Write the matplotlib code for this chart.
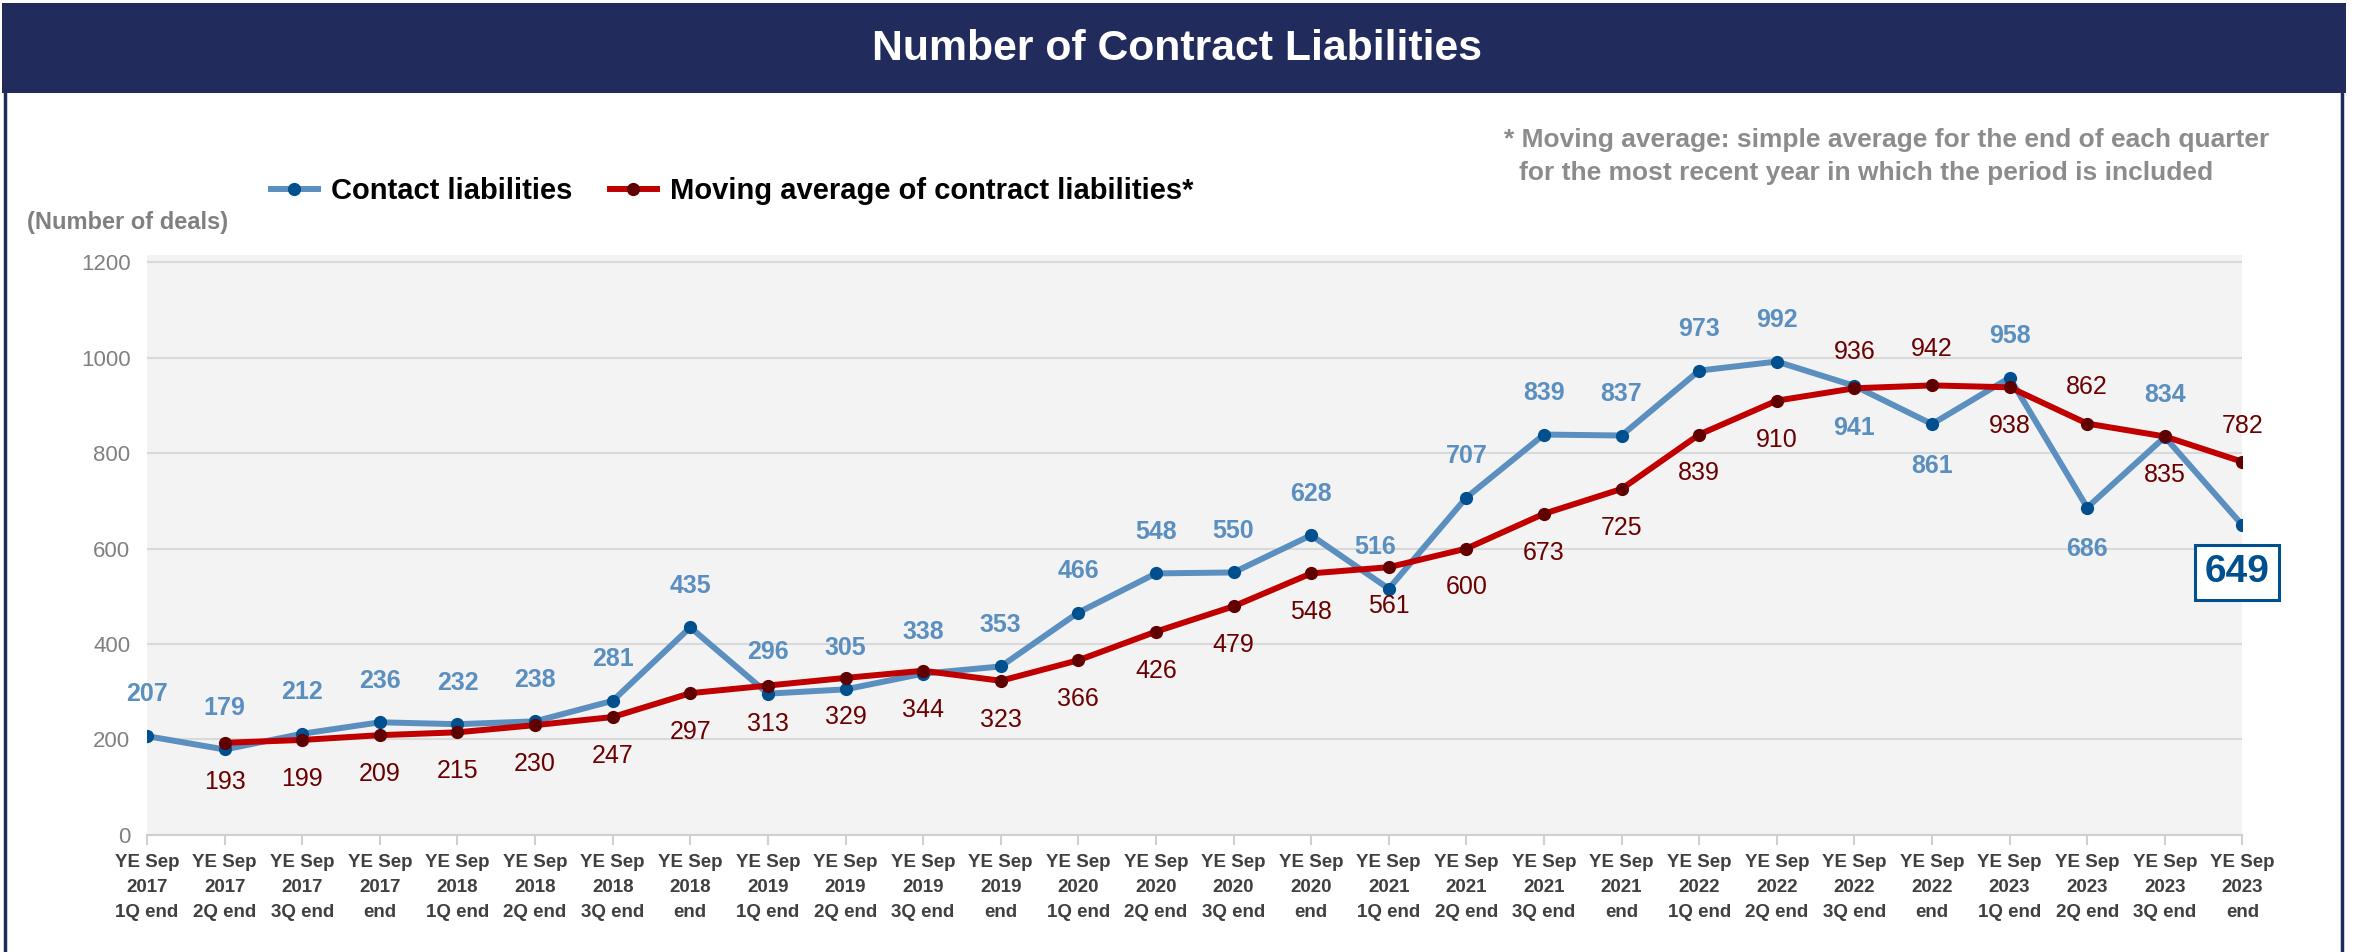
import matplotlib
matplotlib.use("Agg")
import matplotlib.pyplot as plt
from matplotlib.patches import Rectangle
from matplotlib.lines import Line2D

plt.rcParams['font.family'] = ['Liberation Sans', 'DejaVu Sans']

# data
periods = ["YE Sep\n2017\n1Q end", "YE Sep\n2017\n2Q end", "YE Sep\n2017\n3Q end", "YE Sep\n2017\nend",
           "YE Sep\n2018\n1Q end", "YE Sep\n2018\n2Q end", "YE Sep\n2018\n3Q end", "YE Sep\n2018\nend",
           "YE Sep\n2019\n1Q end", "YE Sep\n2019\n2Q end", "YE Sep\n2019\n3Q end", "YE Sep\n2019\nend",
           "YE Sep\n2020\n1Q end", "YE Sep\n2020\n2Q end", "YE Sep\n2020\n3Q end", "YE Sep\n2020\nend",
           "YE Sep\n2021\n1Q end", "YE Sep\n2021\n2Q end", "YE Sep\n2021\n3Q end", "YE Sep\n2021\nend",
           "YE Sep\n2022\n1Q end", "YE Sep\n2022\n2Q end", "YE Sep\n2022\n3Q end", "YE Sep\n2022\nend",
           "YE Sep\n2023\n1Q end", "YE Sep\n2023\n2Q end", "YE Sep\n2023\n3Q end", "YE Sep\n2023\nend"]
contract = [207, 179, 212, 236, 232, 238, 281, 435, 296, 305, 338, 353, 466, 548,
            550, 628, 516, 707, 839, 837, 973, 992, 941, 861, 958, 686, 834, 649]
moving_avg = [193, 199, 209, 215, 230, 247, 297, 313, 329, 344, 323, 366, 426, 479,
              548, 561, 600, 673, 725, 839, 910, 936, 942, 938, 862, 835, 782]
yticks = [0, 200, 400, 600, 800, 1000, 1200]

# label placement: +1 above, -1 below
blue_pos = [1] * 28
for i in (22, 23, 25):
    blue_pos[i] = -1
red_pos = [-1] * 27
for i in (21, 22, 24, 26):   # 936, 942, 862, 782 above
    red_pos[i] = 1

navy = '#212b5c'
blue_line = '#5a8fc0'
blue_dot = '#00508f'
red_line = '#c00000'
red_dot = '#600000'
red_txt = '#6b0000'

fig = plt.figure(figsize=(23.53, 9.52), dpi=100)

# title bar and frame
fig.patches.append(Rectangle((0.001, 0.902), 0.996, 0.095, transform=fig.transFigure,
                             facecolor=navy, edgecolor='none', zorder=0))
fig.add_artist(Line2D([0.002, 0.002], [0, 0.99], transform=fig.transFigure, color=navy, lw=2.5))
fig.add_artist(Line2D([0.9955, 0.9955], [0, 0.99], transform=fig.transFigure, color=navy, lw=2.5))
fig.text(0.5, 0.949, "Number of Contract Liabilities", color='white', fontsize=30.8,
         fontweight='bold', ha='center', va='center')

ax = fig.add_axes([0.0625, 0.123, 0.8905, 0.609])
ax.set_facecolor('#f3f3f3')
x = list(range(len(periods)))
xr = x[1:]

ax.plot(x, contract, color=blue_line, lw=4.3, marker='o', ms=8.5, mfc=blue_dot, mec=blue_dot,
        zorder=3, label='Contact liabilities')
ax.plot(xr, moving_avg, color=red_line, lw=4.3, marker='o', ms=8.5, mfc=red_dot, mec=red_dot,
        zorder=4, label='Moving average of contract liabilities*')

for i, v in enumerate(contract):
    if i == len(contract) - 1:
        continue
    dy = 30 if blue_pos[i] > 0 else -30
    dx = 0
    if i == 16:
        dx = -10
    ax.annotate(str(v), (i, v), xytext=(dx, dy), textcoords='offset points', ha='center',
                va='center', color=blue_line, fontsize=18, fontweight='bold', zorder=5)
for j, v in enumerate(moving_avg):
    dy = 26 if red_pos[j] > 0 else -28
    ax.annotate(str(v), (xr[j], v), xytext=(0, dy), textcoords='offset points', ha='center',
                va='center', color=red_txt, fontsize=18, zorder=5)

# highlighted last value
ax.annotate(str(contract[-1]), (x[-1], contract[-1]), xytext=(-4, -34), textcoords='offset points',
            ha='center', va='center', color=blue_dot, fontsize=28, fontweight='bold', zorder=6,
            bbox=dict(boxstyle='square,pad=0.25', fc='white', ec=blue_dot, lw=2.2),
            annotation_clip=False)

ax.set_xlim(0, 27)
ax.set_ylim(0, 1215)
ax.set_yticks(yticks)
ax.set_yticklabels([str(t) for t in yticks], color='#808080', fontsize=16)
ax.set_xticks(x)
ax.set_xticklabels(periods, fontsize=13.5, fontweight='bold', color='#404040', linespacing=1.6)
ax.tick_params(axis='y', length=0, pad=12)
ax.tick_params(axis='x', length=7, color='#d0d0d0', width=1.5, pad=7)
ax.grid(axis='y', color='#d9d9d9', lw=1.5, zorder=1)
ax.set_axisbelow(True)
for s in ('top', 'right', 'left'):
    ax.spines[s].set_visible(False)
ax.spines['bottom'].set_color('#d0d0d0')
ax.spines['bottom'].set_linewidth(1.5)

fig.text(0.0115, 0.766, "(Number of deals)", color='#808080', fontsize=17, fontweight='bold',
         va='center', ha='left')
fig.text(0.639, 0.853, "* Moving average: simple average for the end of each quarter",
         color='#8c8c8c', fontsize=19, fontweight='bold', va='center', ha='left')
fig.text(0.6455, 0.818, "for the most recent year in which the period is included",
         color='#8c8c8c', fontsize=19, fontweight='bold', va='center', ha='left')

fig.legend(loc='center left', bbox_to_anchor=(0.104, 0.799), ncol=2, frameon=False,
           prop={'size': 21, 'weight': 'bold'}, handlelength=1.6, columnspacing=1.3,
           handletextpad=0.45)

fig.savefig('out.png', dpi=100)
